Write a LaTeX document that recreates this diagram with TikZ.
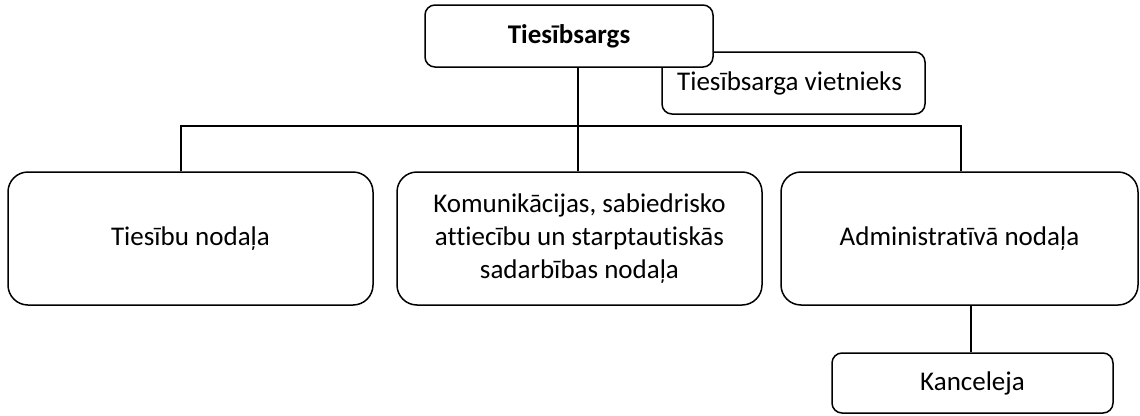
\documentclass[tikz,border=0pt]{standalone}
\usepackage{fontspec}
\setmainfont[Ligatures=NoCommon]{Carlito}
\begin{document}
\begin{tikzpicture}[x=1pt,y=-1pt,
  box/.style={draw=black,line width=1.5pt,fill=white,rounded corners=#1,inner sep=0pt,align=center,font=\fontsize{27}{33}\selectfont},
  box/.default=20pt,
  conn/.style={draw=black,line width=1.5pt}]
\useasboundingbox (0,0) rectangle (1140,415);
\node[box=10pt,minimum width=263pt,minimum height=62pt] (vice) at (793.5,83) {\hspace*{-8pt}Tiesībsarga vietnieks};
\node[box=10pt,minimum width=288pt,minimum height=62pt,font=\fontsize{27}{33}\selectfont\bfseries] (top) at (569,36) {Tiesībsargs};
\node[box,minimum width=365pt,minimum height=133pt] (b1) at (190.5,238.5) {Tiesību nodaļa};
\node[box,minimum width=365pt,minimum height=133pt] (b2) at (579.5,238.5) {Komunikācijas, sabiedrisko\\attiecību un starptautiskās\\sadarbības nodaļa};
\node[box,minimum width=357pt,minimum height=133pt] (b3) at (959.5,238.5) {Administratīvā nodaļa};
\node[box=10pt,minimum width=281pt,minimum height=60pt] (k) at (972.5,383) {Kanceleja};
\coordinate (h1) at (181,126);
\coordinate (h3) at (961,126);
\coordinate (tm) at (578,126);
\draw[conn] (tm |- top.south) -- (tm |- b2.north);
\draw[conn] (h1 |- b1.north) -- (h1) -- (h3) -- (h3 |- b3.north);
\draw[conn] (971,0 |- b3.south) -- (971,0 |- k.north);
\end{tikzpicture}
\end{document}
